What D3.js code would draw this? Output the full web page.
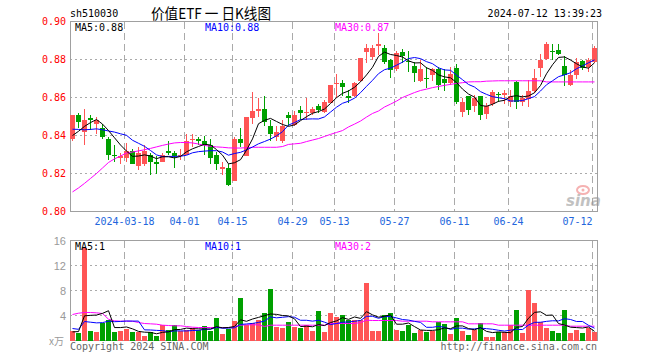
<!DOCTYPE html>
<html><head><meta charset="utf-8">
<script src="https://cdn.jsdelivr.net/npm/d3@7"></script>
<style>body{margin:0;background:#fff}svg{display:block}</style>
</head><body><svg id="c" width="660" height="360"></svg>
<script>
const dates = ["2024-03-05","2024-03-06","2024-03-07","2024-03-08","2024-03-11","2024-03-12","2024-03-13","2024-03-14","2024-03-15","2024-03-18",
"2024-03-19","2024-03-20","2024-03-21","2024-03-22","2024-03-25","2024-03-26","2024-03-27","2024-03-28","2024-03-29","2024-04-01",
"2024-04-02","2024-04-03","2024-04-08","2024-04-09","2024-04-10","2024-04-11","2024-04-12","2024-04-15","2024-04-16","2024-04-17",
"2024-04-18","2024-04-19","2024-04-22","2024-04-23","2024-04-24","2024-04-25","2024-04-26","2024-04-29","2024-04-30","2024-05-06",
"2024-05-07","2024-05-08","2024-05-09","2024-05-10","2024-05-13","2024-05-14","2024-05-15","2024-05-16","2024-05-17","2024-05-20",
"2024-05-21","2024-05-22","2024-05-23","2024-05-24","2024-05-27","2024-05-28","2024-05-29","2024-05-30","2024-05-31","2024-06-03",
"2024-06-04","2024-06-05","2024-06-06","2024-06-07","2024-06-11","2024-06-12","2024-06-13","2024-06-14","2024-06-17","2024-06-18",
"2024-06-19","2024-06-20","2024-06-21","2024-06-24","2024-06-25","2024-06-26","2024-06-27","2024-06-28","2024-07-01","2024-07-02",
"2024-07-03","2024-07-04","2024-07-05","2024-07-08","2024-07-09","2024-07-10","2024-07-11","2024-07-12"];

const opens = [0.838,0.851,0.842,0.849,0.846,0.844,0.838,0.830,0.828,0.828,
0.832,0.824,0.825,0.830,0.826,0.826,0.832,0.831,0.829,0.830,
0.8375,0.838,0.837,0.835,0.830,0.8226,0.823,0.816,0.838,0.829,
0.849,0.853,0.854,0.845,0.839,0.837,0.851,0.8455,0.8534,0.852,
0.852,0.8555,0.8525,0.857,0.867,0.8677,0.8607,0.861,0.8688,0.884,
0.8814,0.887,0.8858,0.8796,0.8748,0.884,0.879,0.8765,0.8686,0.8705,
0.8718,0.8748,0.8697,0.8674,0.8753,0.8525,0.8607,0.8555,0.8607,0.8513,
0.8565,0.8618,0.8614,0.8577,0.8683,0.8577,0.859,0.8635,0.8753,0.8805,
0.8843,0.8849,0.8765,0.8665,0.8718,0.8793,0.8761,0.8787];

const highs = [0.851,0.852,0.854,0.851,0.850,0.846,0.839,0.835,0.831,0.836,
0.833,0.834,0.835,0.831,0.829,0.831,0.837,0.832,0.833,0.841,
0.841,0.839,0.840,0.838,0.8315,0.826,0.825,0.839,0.844,0.850,
0.863,0.8595,0.861,0.848,0.845,0.848,0.8525,0.853,0.8555,0.8595,
0.855,0.8565,0.8587,0.8665,0.8726,0.869,0.864,0.8683,0.8808,0.8884,
0.8875,0.894,0.8875,0.8805,0.8845,0.8855,0.8845,0.8787,0.8796,0.8758,
0.8757,0.8758,0.8748,0.876,0.8775,0.8595,0.8607,0.8613,0.861,0.857,
0.8639,0.863,0.8639,0.8642,0.8688,0.8613,0.8691,0.8748,0.8828,0.8892,
0.888,0.8884,0.8817,0.8744,0.8808,0.880,0.881,0.887];

const lows = [0.837,0.844,0.835,0.843,0.841,0.838,0.827,0.826,0.825,0.826,
0.825,0.822,0.824,0.819,0.820,0.826,0.830,0.823,0.827,0.830,
0.834,0.835,0.830,0.825,0.822,0.819,0.8135,0.816,0.834,0.829,
0.846,0.850,0.845,0.837,0.837,0.836,0.845,0.845,0.848,0.848,
0.851,0.852,0.852,0.857,0.8595,0.861,0.857,0.8604,0.8683,0.8784,
0.8795,0.8823,0.8775,0.8705,0.874,0.878,0.8735,0.868,0.8683,0.8648,
0.8685,0.864,0.8636,0.8665,0.8564,0.8496,0.8507,0.8525,0.848,0.8485,
0.8555,0.8577,0.8568,0.8548,0.8538,0.8555,0.8548,0.8625,0.8709,0.880,
0.880,0.8823,0.866,0.866,0.870,0.8744,0.8735,0.8782];

const closes = [0.851,0.847,0.848,0.848,0.848,0.839,0.830,0.829,0.829,0.832,
0.825,0.831,0.832,0.826,0.825,0.830,0.831,0.829,0.830,0.837,
0.838,0.837,0.835,0.828,0.825,0.8233,0.814,0.838,0.836,0.850,
0.853,0.854,0.847,0.841,0.842,0.845,0.849,0.851,0.852,0.8525,
0.854,0.8535,0.8577,0.8665,0.8677,0.8656,0.8597,0.8674,0.8808,0.8858,
0.8858,0.8884,0.8787,0.8745,0.8832,0.8817,0.8785,0.873,0.875,0.870,
0.875,0.8665,0.8677,0.8726,0.8577,0.8577,0.8534,0.8595,0.8508,0.8555,
0.863,0.8611,0.8622,0.8607,0.8577,0.860,0.8635,0.8705,0.880,0.8884,
0.8838,0.8828,0.8718,0.8718,0.8787,0.8753,0.8796,0.8858];

// volume, unit: 万
const volumes = [1.5,1.23,14.8,1.5,1.33,2.83,3.36,1.33,1.5,1.81,
1.33,1.33,0.69,1.33,0.69,2.45,1.76,2.45,1.5,1.76,
2.0,1.65,2.29,1.5,3.63,1.07,1.92,3.09,6.83,2.45,
2.88,3.25,4.43,8.21,2.13,1.97,2.93,2.13,1.97,2.45,
1.5,4.69,1.33,4.37,3.79,4.05,3.36,3.25,3.25,9.17,
1.49,1.49,4.05,4.37,1.65,1.49,2.45,1.17,1.65,1.33,
1.49,2.99,2.61,1.01,3.57,1.49,0.85,1.65,2.77,0.53,
0.53,1.39,1.33,2.45,4.85,1.17,8.05,5.97,2.93,1.97,
1.49,1.17,4.85,1.17,1.65,1.17,1.97,1.33];

// estimated values before the visible window (needed for the first MA points)
const priorCloses = [0.848,0.850,0.846,0.845,0.844,0.836,0.835,0.838,0.840];
const priorVolumes = [2.5,2.3,2.6,2.4,2.45,1.0,2.2,1.1,1.1];

// 30-day averages
const ma30 = [0.8103,0.8124,0.8148,0.8174,0.8200,0.8229,0.8258,0.8277,0.8292,0.8308,
0.8313,0.8319,0.8325,0.8332,0.8340,0.8348,0.8355,0.8361,0.8363,0.8363,
0.8361,0.8355,0.8348,0.8343,0.8340,0.8338,0.8335,0.8334,0.8334,0.8336,
0.8338,0.8338,0.8338,0.8338,0.8338,0.8342,0.8353,0.8356,0.8359,0.8368,
0.8376,0.8384,0.8395,0.8406,0.8416,0.8426,0.8445,0.8460,0.8476,0.8497,
0.8516,0.8529,0.8550,0.8565,0.8581,0.8600,0.8613,0.8626,0.8637,0.8644,
0.8652,0.8658,0.8664,0.8669,0.8674,0.8678,0.8682,0.8683,0.8683,0.8686,
0.8687,0.8688,0.8688,0.8688,0.8688,0.8688,0.8688,0.8688,0.8688,0.8682,
0.8682,0.8682,0.8682,0.8682,0.8682,0.8682,0.8682,0.8682];
const volMa30 = [4.16,4.37,4.48,4.48,4.43,4.32,3.41,3.15,3.09,3.09,
3.09,2.88,2.72,2.67,2.61,2.45,2.40,2.35,2.35,2.24,
2.13,2.08,2.08,2.08,2.08,2.08,2.08,2.13,2.45,2.51,
2.51,2.51,2.24,2.45,2.45,2.45,2.45,2.45,2.45,2.45,
2.45,2.45,2.45,2.72,2.72,2.72,2.72,2.72,2.88,3.25,
3.2,3.2,3.2,3.2,3.2,3.09,3.09,3.09,3.09,3.09,
2.99,2.99,2.99,2.99,2.99,2.99,2.67,2.67,2.67,2.67,
2.67,2.45,2.45,2.45,2.45,2.45,2.45,2.45,2.45,2.45,
2.45,2.45,2.45,2.29,2.29,2.29,2.29,2.29];

const priceTicks = [0.80,0.82,0.84,0.86,0.88,0.90];
const volTicks = [4,8,12,16];
const tickDates = ["2024-03-18","2024-04-01","2024-04-15","2024-04-29","2024-05-13","2024-05-27","2024-06-11","2024-06-24","2024-07-12"];
const tickLabels = ["2024-03-18","04-01","04-15","04-29","05-13","05-27","06-11","06-24","07-12"];

const RED = "#ff5555", GREEN = "#00a000", GRID = "#aaaaaa", FRAME = "#a0a0a0";
const MONO = "'DejaVu Sans Mono', monospace";

function movingAvg(prior, series, n) {
  const all = prior.concat(series), off = prior.length;
  return series.map((_, i) => d3.mean(all.slice(off + i - n + 1, off + i + 1)));
}
const ma5 = movingAvg(priorCloses, closes, 5);
const ma10 = movingAvg(priorCloses, closes, 10);
const vma5 = movingAvg(priorVolumes, volumes, 5);
const vma10 = movingAvg(priorVolumes, volumes, 10);

const svg = d3.select("#c");
const L = 70, R = 598;
const x = d3.scaleBand().domain(dates).range([L, R]);
const y = d3.scaleLinear().domain([0.80, 0.90]).range([211.5, 21.5]);
const yv = d3.scaleLinear().domain([0, 16]).range([340.5, 240.5]);
const gx = d => x(d) + 0.5;
const cx = d => x(d) + 2.5;

// ---------- header ----------
svg.append("text").attr("x", 70).attr("y", 17).attr("font-family", MONO).attr("font-size", 10).attr("fill", "#000").text("sh510030");
svg.append("text").attr("x", 151).attr("y", 19).attr("font-family", "'Noto Sans CJK SC', sans-serif").attr("font-size", 15)
  .attr("fill", "#000").attr("textLength", 120).attr("lengthAdjust", "spacingAndGlyphs").text("价值ETF 一 日K线图");
svg.append("text").attr("x", 602).attr("y", 17).attr("text-anchor", "end").attr("font-family", MONO).attr("font-size", 10).attr("fill", "#000").text("2024-07-12 13:39:23");

function panel(yScale, ticks, top, bottom) {
  const g = svg.append("g");
  g.selectAll("line.h").data(ticks.filter(t => yScale(t) > top + 1 && yScale(t) < bottom - 1)).join("line")
    .attr("x1", L).attr("x2", R).attr("y1", d => yScale(d)).attr("y2", d => yScale(d))
    .attr("stroke", GRID).attr("stroke-dasharray", "2,3").attr("shape-rendering", "crispEdges");
  g.selectAll("line.v").data(tickDates).join("line")
    .attr("x1", gx).attr("x2", gx).attr("y1", top).attr("y2", bottom)
    .attr("stroke", GRID).attr("stroke-dasharray", "7,4").attr("shape-rendering", "crispEdges");
  g.append("rect").attr("x", L + 0.5).attr("y", top).attr("width", R - L - 1).attr("height", bottom - top)
    .attr("fill", "none").attr("stroke", FRAME).attr("stroke-width", 1.5).attr("shape-rendering", "crispEdges");
  return g;
}

// ---------- price panel ----------
panel(y, priceTicks, 21.5, 211.5);

const candles = svg.append("g").attr("shape-rendering", "crispEdges");
candles.selectAll("line").data(dates).join("line")
  .attr("x1", cx).attr("x2", cx)
  .attr("y1", (d, i) => y(highs[i])).attr("y2", (d, i) => y(lows[i]))
  .attr("stroke", (d, i) => closes[i] >= opens[i] ? RED : GREEN);
candles.selectAll("rect").data(dates).join("rect")
  .attr("x", d => x(d)).attr("width", 5)
  .attr("y", (d, i) => y(Math.max(opens[i], closes[i])))
  .attr("height", (d, i) => Math.max(1, Math.abs(y(opens[i]) - y(closes[i]))))
  .attr("fill", (d, i) => closes[i] >= opens[i] ? RED : GREEN);

const priceLine = arr => d3.line().x((d, i) => cx(dates[i])).y(d => y(d))(arr);
[[ma30, "#ff00ff"], [ma10, "#0000ff"], [ma5, "#000000"]].forEach(([arr, c]) => {
  svg.append("path").attr("d", priceLine(arr)).attr("fill", "none").attr("stroke", c).attr("stroke-width", 1);
});

const yAxisG = svg.append("g").attr("transform", "translate(70,0)")
  .call(d3.axisLeft(y).tickValues(priceTicks).tickSize(0).tickPadding(4).tickFormat(d3.format(".2f")));
yAxisG.select(".domain").remove();
yAxisG.selectAll("text").attr("fill", "#ff0000").attr("font-family", MONO).attr("font-size", 10);

svg.append("g").selectAll("text").data(tickDates).join("text")
  .attr("x", (d, i) => gx(d)).attr("y", 225)
  .attr("text-anchor", (d, i) => i === tickDates.length - 1 ? "end" : "middle")
  .attr("font-family", MONO).attr("font-size", 10).attr("fill", "#2266dd")
  .text((d, i) => tickLabels[i]);

const f2 = d3.format(".2f");
svg.append("text").attr("x", 75).attr("y", 31).attr("font-family", MONO).attr("font-size", 10).attr("fill", "#000").text("MA5:" + f2(ma5[ma5.length - 1]));
svg.append("text").attr("x", 205).attr("y", 31).attr("font-family", MONO).attr("font-size", 10).attr("fill", "#0000ff").text("MA10:" + f2(ma10[ma10.length - 1]));
svg.append("text").attr("x", 335).attr("y", 31).attr("font-family", MONO).attr("font-size", 10).attr("fill", "#ff00ff").text("MA30:" + f2(ma30[ma30.length - 1]));

// sina watermark
const wm = svg.append("g").attr("opacity", 0.6);
wm.append("ellipse").attr("cx", 583).attr("cy", 190).attr("rx", 6).attr("ry", 4).attr("fill", "none").attr("stroke", "#f08080").attr("stroke-width", 2);
wm.append("circle").attr("cx", 583).attr("cy", 190).attr("r", 1.5).attr("fill", "#f08080");
wm.append("text").attr("x", 566).attr("y", 206).attr("font-family", "'DejaVu Sans', sans-serif").attr("font-size", 15)
  .attr("font-weight", "bold").attr("font-style", "italic").attr("fill", "#999").text("sina");

// ---------- volume panel ----------
panel(yv, volTicks, 240.5, 340.5);
svg.append("g").attr("shape-rendering", "crispEdges").selectAll("rect").data(dates).join("rect")
  .attr("x", d => x(d)).attr("width", 5)
  .attr("y", (d, i) => yv(volumes[i])).attr("height", (d, i) => yv(0) - yv(volumes[i]))
  .attr("fill", (d, i) => closes[i] >= opens[i] ? RED : GREEN);
const volLine = arr => d3.line().x((d, i) => cx(dates[i])).y(d => yv(d))(arr);
[[volMa30, "#ff00ff"], [vma10, "#0000ff"], [vma5, "#000000"]].forEach(([arr, c]) => {
  svg.append("path").attr("d", volLine(arr)).attr("fill", "none").attr("stroke", c).attr("stroke-width", 1);
});
const vAxisG = svg.append("g").attr("transform", "translate(70,0)")
  .call(d3.axisLeft(yv).tickValues(volTicks).tickSize(0).tickPadding(4));
vAxisG.select(".domain").remove();
vAxisG.selectAll("text").attr("fill", "#999").attr("font-family", "'Liberation Sans', sans-serif").attr("font-size", 11);
svg.append("text").attr("x", 49).attr("y", 345).attr("font-family", "'Noto Sans CJK SC', sans-serif").attr("font-size", 10).attr("fill", "#999").text("x万");

svg.append("text").attr("x", 75).attr("y", 250).attr("font-family", MONO).attr("font-size", 10).attr("fill", "#000").text("MA5:" + Math.floor(vma5[vma5.length - 1]));
svg.append("text").attr("x", 205).attr("y", 250).attr("font-family", MONO).attr("font-size", 10).attr("fill", "#0000ff").text("MA10:" + Math.floor(vma10[vma10.length - 1]));
svg.append("text").attr("x", 335).attr("y", 250).attr("font-family", MONO).attr("font-size", 10).attr("fill", "#ff00ff").text("MA30:" + Math.floor(volMa30[volMa30.length - 1]));

svg.append("text").attr("x", 70).attr("y", 350).attr("font-family", MONO).attr("font-size", 10).attr("fill", "#666").text("Copyright 2024 SINA.COM");
svg.append("text").attr("x", 597).attr("y", 350).attr("text-anchor", "end").attr("font-family", MONO).attr("font-size", 10).attr("fill", "#666").text("http://finance.sina.com.cn");
</script></body></html>
